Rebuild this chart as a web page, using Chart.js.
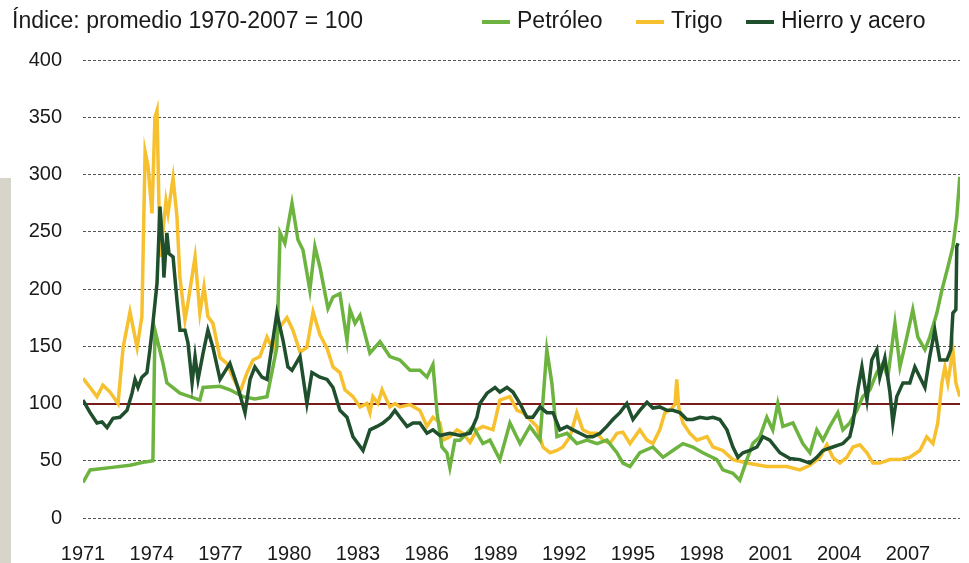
<!DOCTYPE html>
<html lang="es">
<head>
<meta charset="utf-8">
<title>Índice de precios: petróleo, trigo, hierro y acero</title>
<script src="https://cdn.jsdelivr.net/npm/chart.js@4.4.1/dist/chart.umd.min.js"></script>
<style>
  body { margin: 0; background: #fff; overflow: hidden; }
  #wrap { position: relative; width: 969px; height: 563px; font-family: 'Liberation Sans', Arial, sans-serif; color: #1a1a1a; }
  #edge { position: absolute; left: 0; top: 178px; width: 11px; height: 385px; background: #d7d4ca; }
  #title { position: absolute; left: 12px; top: 7px; font-size: 23px; white-space: nowrap; }
  .key { position: absolute; top: 7px; font-size: 23px; white-space: nowrap; }
  .key i { display: inline-block; width: 28px; height: 4px; margin-right: 7px; vertical-align: middle; }
  canvas { position: absolute; left: 0; top: 0; }
</style>
</head>
<body>
<div id="wrap">
  <div id="edge"></div>
  <canvas id="myChart" width="969" height="563"></canvas>
  <div id="title">Índice: promedio 1970-2007 = 100</div>
  <div id="legend"></div>
</div>
<script>
const yearTicks = [1971, 1974, 1977, 1980, 1983, 1986, 1989, 1992, 1995, 1998, 2001, 2004, 2007]
const valueTicks = [0, 50, 100, 150, 200, 250, 300, 350, 400]
const seriesNames = ['Petróleo', 'Trigo', 'Hierro y acero']
const seriesColors = ['#6db33f', '#f6c02f', '#1f4f2c']

// Petróleo
const oilYears = [1971.0, 1971.31, 1972.18, 1973.05, 1973.71, 1974.05, 1974.14, 1974.49, 1974.66, 1975.23,
    1976.10, 1976.24, 1976.98, 1977.41, 1977.98, 1978.50, 1979.03, 1979.46, 1979.60, 1979.81,
    1980.12, 1980.38, 1980.60, 1980.90, 1981.12, 1981.34, 1981.69, 1981.91, 1982.21, 1982.52,
    1982.65, 1982.87, 1983.09, 1983.52, 1983.96, 1984.39, 1984.83, 1985.27, 1985.70, 1986.01,
    1986.27, 1986.45, 1986.66, 1986.88, 1987.01, 1987.23, 1987.45, 1987.75, 1988.02, 1988.45,
    1988.76, 1989.19, 1989.63, 1990.07, 1990.50, 1990.94, 1991.24, 1991.46, 1991.68, 1992.12,
    1992.55, 1992.99, 1993.43, 1993.86, 1994.30, 1994.56, 1994.87, 1995.30, 1995.87, 1996.31,
    1996.74, 1997.18, 1997.61, 1998.05, 1998.66, 1998.92, 1999.36, 1999.66, 1999.97, 2000.23,
    2000.54, 2000.84, 2001.10, 2001.32, 2001.54, 2001.98, 2002.41, 2002.72, 2003.02, 2003.29,
    2003.59, 2003.94, 2004.16, 2004.46, 2004.77, 2005.03, 2005.34, 2005.64, 2005.90, 2006.12,
    2006.43, 2006.65, 2006.95, 2007.21, 2007.43, 2007.74, 2007.95, 2008.26, 2008.48, 2008.74,
    2008.96, 2009.13, 2009.26]
const oilValues = [31, 42, 44, 46, 49, 50, 164, 135, 118, 109,
    103, 114, 115, 112, 106, 104, 106, 149, 249, 240,
    275, 243, 234, 199, 237, 219, 183, 193, 196, 155,
    182, 170, 177, 144, 154, 141, 138, 129, 129, 123,
    134, 92, 62, 57, 44, 68, 68, 74, 80, 65,
    68, 51, 83, 65, 80, 68, 147, 118, 71, 74,
    65, 68, 65, 68, 57, 48, 45, 57, 62, 53,
    59, 65, 62, 57, 51, 42, 39, 33, 51, 65,
    71, 88, 77, 100, 80, 83, 65, 57, 77, 68,
    80, 92, 77, 83, 94, 106, 112, 127, 135, 123,
    170, 132, 158, 182, 158, 147, 158, 179, 199, 219,
    237, 263, 298]

// Trigo
const wheatYears = [1971.0, 1971.31, 1971.61, 1971.87, 1972.18, 1972.53, 1972.75, 1973.05, 1973.36, 1973.57,
    1973.71, 1973.84, 1974.01, 1974.14, 1974.23, 1974.36, 1974.49, 1974.62, 1974.71, 1974.93,
    1975.10, 1975.23, 1975.45, 1975.58, 1975.89, 1976.10, 1976.28, 1976.45, 1976.67, 1976.98,
    1977.28, 1977.54, 1977.85, 1978.16, 1978.42, 1978.72, 1979.03, 1979.29, 1979.60, 1979.90,
    1980.16, 1980.47, 1980.77, 1981.04, 1981.34, 1981.65, 1981.91, 1982.21, 1982.43, 1982.78,
    1983.09, 1983.39, 1983.52, 1983.65, 1983.87, 1984.05, 1984.39, 1984.61, 1984.83, 1985.27,
    1985.70, 1986.01, 1986.27, 1986.58, 1986.71, 1987.01, 1987.32, 1987.58, 1987.89, 1988.19,
    1988.45, 1988.89, 1989.19, 1989.63, 1989.94, 1990.20, 1990.50, 1990.81, 1991.07, 1991.38,
    1991.68, 1991.94, 1992.25, 1992.55, 1992.81, 1993.12, 1993.43, 1993.69, 1993.99, 1994.30,
    1994.56, 1994.87, 1995.30, 1995.61, 1995.87, 1996.17, 1996.39, 1996.61, 1996.83, 1996.91,
    1997.00, 1997.18, 1997.48, 1997.79, 1998.23, 1998.49, 1998.92, 1999.36, 1999.97, 2000.84,
    2001.72, 2002.28, 2002.72, 2003.16, 2003.46, 2003.72, 2004.03, 2004.33, 2004.60, 2004.90,
    2005.21, 2005.47, 2005.77, 2006.21, 2006.65, 2007.08, 2007.52, 2007.82, 2008.09, 2008.30,
    2008.48, 2008.61, 2008.74, 2008.96, 2009.09, 2009.26]
const wheatValues = [122, 114, 106, 116, 110, 100, 149, 180, 149, 176,
    320, 307, 266, 350, 356, 228, 251, 277, 266, 297,
    263, 210, 173, 188, 228, 179, 202, 176, 170, 140,
    135, 123, 110, 127, 138, 141, 158, 147, 167, 175,
    164, 145, 149, 180, 160, 148, 132, 127, 112, 106,
    97, 100, 92, 106, 100, 112, 97, 100, 97, 99,
    94, 80, 88, 83, 68, 71, 77, 74, 66, 77,
    80, 77, 103, 106, 94, 92, 86, 80, 62, 57,
    59, 62, 71, 92, 77, 74, 74, 68, 65, 74,
    75, 65, 77, 68, 65, 77, 92, 94, 99, 121,
    96, 83, 74, 68, 71, 62, 59, 51, 48, 45,
    45, 42, 46, 53, 64, 53, 48, 53, 62, 64,
    57, 48, 48, 51, 51, 53, 59, 71, 65, 83,
    118, 132, 118, 147, 118, 106]

// Hierro y acero
const steelYears = [1971.0, 1971.31, 1971.61, 1971.83, 1972.05, 1972.31, 1972.61, 1972.92, 1973.14, 1973.27,
    1973.40, 1973.57, 1973.79, 1973.92, 1974.05, 1974.23, 1974.36, 1974.49, 1974.53, 1974.66,
    1974.75, 1974.93, 1975.10, 1975.23, 1975.45, 1975.58, 1975.76, 1975.89, 1976.02, 1976.24,
    1976.45, 1976.67, 1976.98, 1977.41, 1977.76, 1978.07, 1978.29, 1978.50, 1978.81, 1979.03,
    1979.46, 1979.73, 1979.94, 1980.12, 1980.47, 1980.77, 1980.99, 1981.34, 1981.65, 1981.91,
    1982.21, 1982.52, 1982.78, 1983.22, 1983.52, 1983.83, 1984.09, 1984.39, 1984.61, 1984.83,
    1985.14, 1985.40, 1985.70, 1986.01, 1986.27, 1986.58, 1987.01, 1987.45, 1987.89, 1988.19,
    1988.32, 1988.63, 1988.98, 1989.19, 1989.50, 1989.76, 1990.07, 1990.37, 1990.63, 1990.94,
    1991.24, 1991.51, 1991.81, 1992.12, 1992.38, 1992.68, 1992.99, 1993.25, 1993.56, 1993.86,
    1994.12, 1994.43, 1994.73, 1995.00, 1995.30, 1995.61, 1995.87, 1996.17, 1996.48, 1996.74,
    1997.05, 1997.35, 1997.61, 1997.92, 1998.23, 1998.49, 1998.79, 1999.10, 1999.36, 1999.58,
    1999.80, 2000.10, 2000.41, 2000.67, 2000.97, 2001.41, 2001.85, 2002.28, 2002.72, 2003.02,
    2003.29, 2003.72, 2004.16, 2004.46, 2004.60, 2004.81, 2004.99, 2005.21, 2005.42, 2005.64,
    2005.77, 2005.99, 2006.21, 2006.34, 2006.51, 2006.78, 2007.08, 2007.30, 2007.52, 2007.74,
    2007.95, 2008.17, 2008.39, 2008.70, 2008.87, 2008.96, 2009.09, 2009.13, 2009.18]
const steelValues = [103, 92, 83, 84, 79, 87, 88, 94, 109, 121,
    114, 123, 127, 147, 170, 205, 272, 234, 210, 249,
    231, 228, 190, 164, 164, 153, 118, 141, 121, 144,
    164, 149, 121, 135, 114, 92, 121, 132, 123, 121,
    179, 155, 132, 129, 141, 100, 127, 123, 121, 114,
    94, 88, 71, 59, 77, 80, 83, 88, 94, 88,
    80, 83, 83, 74, 77, 72, 74, 72, 74, 88,
    100, 109, 114, 110, 114, 110, 100, 88, 88, 97,
    92, 92, 77, 80, 77, 74, 71, 71, 74, 80,
    86, 92, 100, 86, 94, 101, 96, 97, 94, 94,
    92, 86, 86, 88, 87, 88, 86, 77, 62, 53,
    57, 59, 62, 71, 68, 57, 52, 51, 48, 53,
    59, 62, 65, 71, 83, 112, 132, 103, 138, 147,
    123, 140, 110, 83, 106, 118, 118, 132, 123, 114,
    141, 164, 138, 138, 147, 179, 182, 237, 240]

function toPoints(xs, ys) {
    return xs.map((x, i) => ({ x: x, y: ys[i] }))
}

const seriesData = [
    toPoints(oilYears, oilValues),
    toPoints(wheatYears, wheatValues),
    toPoints(steelYears, steelValues)
]
// dark green on top, then light green, yellow at the back
const drawOrder = [1, 2, 0]

// html legend next to the title
const legendLefts = [482, 636, 746]
const legendBox = document.getElementById('legend')
seriesNames.forEach((name, i) => {
    const item = document.createElement('div')
    item.className = 'key'
    item.style.left = legendLefts[i] + 'px'
    item.innerHTML = '<i style="background:' + seriesColors[i] + '"></i>' + name
    legendBox.appendChild(item)
})

const tickFont = { family: "'Liberation Sans', Arial, sans-serif", size: 20 }

const data = {
    datasets: seriesNames.map((name, i) => ({
        label: name,
        data: seriesData[i],
        borderColor: seriesColors[i],
        backgroundColor: seriesColors[i],
        borderWidth: 3.5,
        pointRadius: 0,
        tension: 0,
        order: drawOrder[i]
    }))
}

const config = {
    type: 'line',
    data: data,
    options: {
        responsive: false,
        animation: false,
        layout: { padding: { top: 60, right: 9, left: 0, bottom: 0 } },
        plugins: {
            legend: { display: false },
            tooltip: { enabled: false }
        },
        scales: {
            x: {
                type: 'linear',
                min: 1971,
                max: 2009.27,
                afterBuildTicks: (scale) => {
                    scale.ticks = yearTicks.map(v => ({ value: v }))
                },
                afterFit: (scale) => { scale.height = 45 },
                grid: { display: false, drawTicks: false },
                border: { display: false },
                ticks: {
                    autoSkip: false,
                    maxRotation: 0,
                    padding: 24,
                    color: '#1a1a1a',
                    font: tickFont,
                    callback: (v) => String(v)
                }
            },
            y: {
                min: 0,
                max: 400,
                afterBuildTicks: (scale) => {
                    scale.ticks = valueTicks.map(v => ({ value: v }))
                },
                afterFit: (scale) => { scale.width = 83 },
                grid: {
                    drawTicks: false,
                    color: (ctx) => ctx.tick && ctx.tick.value === 100 ? '#7a1c1c' : '#555',
                    lineWidth: (ctx) => ctx.tick && ctx.tick.value === 100 ? 2 : 1
                },
                border: {
                    display: false,
                    dash: (ctx) => ctx.tick && ctx.tick.value === 100 ? [] : [3, 2]
                },
                ticks: {
                    padding: 21,
                    color: '#1a1a1a',
                    font: tickFont
                }
            }
        }
    }
}

let myChart = new Chart(document.getElementById('myChart'), config)
</script>
</body>
</html>
